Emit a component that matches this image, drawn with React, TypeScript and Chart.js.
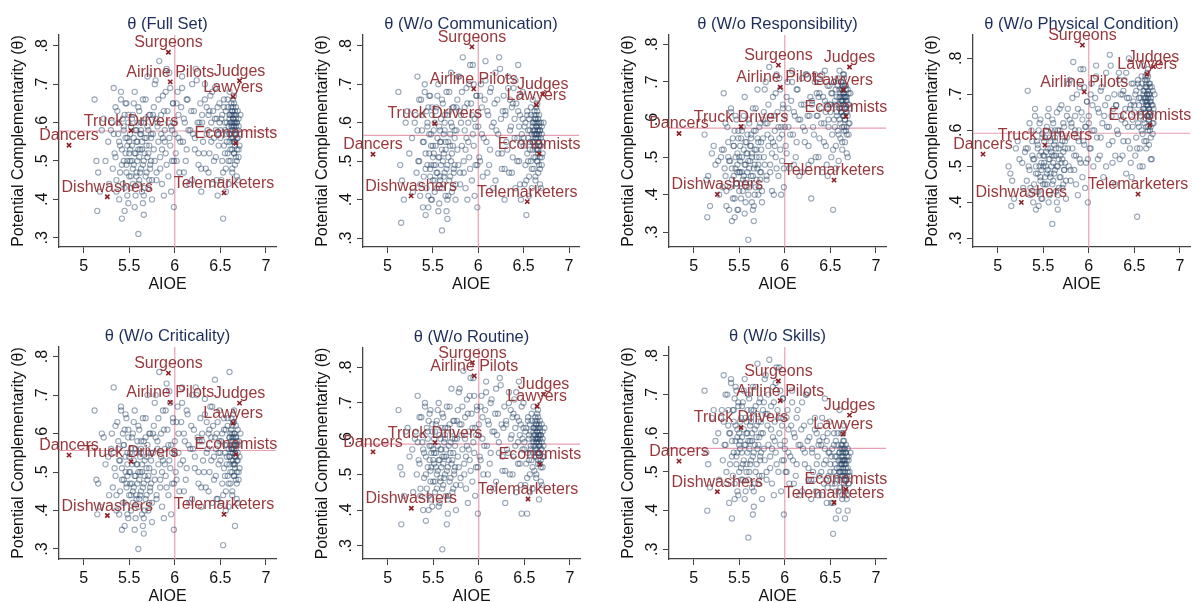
import React, { useEffect, useRef } from "react";
import { Chart, registerables } from "chart.js";
Chart.register(...registerables);

// ---------- DATA ----------
const aioe = [
  5.12, 5.15, 5.16, 5.2, 5.24, 5.28,
  5.31, 5.33, 5.34, 5.36, 5.37, 5.38, 5.39, 5.40, 5.41, 5.42, 5.42, 5.43, 5.44, 5.45, 5.46, 5.46, 5.47, 5.48, 5.48, 5.49, 5.49, 5.5,
  5.51, 5.52, 5.52, 5.53, 5.54, 5.54, 5.55, 5.55, 5.56, 5.57, 5.57, 5.58, 5.58, 5.59, 5.6, 5.6, 5.61, 5.61, 5.62, 5.63, 5.63, 5.64, 5.65, 5.65, 5.66, 5.67, 5.67, 5.68, 5.69, 5.69, 5.7, 5.71, 5.71, 5.72, 5.73, 5.73, 5.74, 5.75,
  5.76, 5.77, 5.78, 5.79, 5.8, 5.81, 5.82, 5.83, 5.84, 5.85, 5.86, 5.87, 5.88, 5.89, 5.9, 5.91, 5.92, 5.93, 5.94, 5.95, 5.96, 5.97, 5.98, 5.99,
  6.0, 6.01, 6.03, 6.04, 6.05, 6.07, 6.08, 6.09, 6.1, 6.12, 6.13, 6.15, 6.16, 6.18, 6.19, 6.2, 6.22, 6.23, 6.25, 6.26, 6.28, 6.29,
  6.3, 6.31, 6.33, 6.34, 6.35, 6.36, 6.38, 6.39, 6.4, 6.41, 6.42, 6.43, 6.44, 6.45, 6.46, 6.47, 6.48, 6.49,
  6.5, 6.51, 6.52, 6.52, 6.53, 6.54, 6.54, 6.55, 6.56, 6.56, 6.57, 6.58, 6.58, 6.59, 6.59, 6.6, 6.6, 6.6, 6.61, 6.61, 6.62, 6.62, 6.62, 6.63, 6.63, 6.63, 6.63, 6.64, 6.64, 6.64, 6.64, 6.65, 6.65, 6.65, 6.65, 6.66, 6.66, 6.66, 6.67, 6.67, 6.67, 6.68, 6.68, 6.68, 6.69, 6.69, 6.7, 6.7, 6.71, 6.72,
  5.14, 5.18, 5.22, 5.27,
  5.3, 5.32, 5.35, 5.35, 5.36, 5.38, 5.39, 5.4, 5.41, 5.42, 5.43, 5.44, 5.44, 5.45, 5.45, 5.46, 5.47, 5.47, 5.48, 5.48, 5.49, 5.5, 5.5, 5.33,
  5.51, 5.51, 5.52, 5.53, 5.53, 5.54, 5.55, 5.56, 5.56, 5.57, 5.58, 5.58, 5.59, 5.59, 5.6, 5.61, 5.62, 5.62, 5.63, 5.64, 5.64, 5.65, 5.66, 5.66, 5.67, 5.68, 5.68, 5.69, 5.7, 5.7, 5.71, 5.72, 5.72, 5.73, 5.74, 5.74, 5.75, 5.6, 5.63, 5.66,
  5.76, 5.77, 5.78, 5.8, 5.81, 5.82, 5.84, 5.85, 5.86, 5.88, 5.89, 5.9, 5.91, 5.93, 5.94, 5.95, 5.96, 5.97, 5.98, 5.99, 5.79, 5.87,
  6.0, 6.02, 6.02, 6.04, 6.06, 6.08, 6.1, 6.11, 6.13, 6.14, 6.17, 6.19, 6.21, 6.22, 6.24, 6.26, 6.27, 6.29,
  6.3, 6.32, 6.33, 6.35, 6.37, 6.38, 6.4, 6.41, 6.43, 6.44, 6.45, 6.46, 6.47, 6.48, 6.49, 6.37,
  6.5, 6.51, 6.53, 6.54, 6.55, 6.55, 6.56, 6.57, 6.57, 6.58, 6.59, 6.6, 6.6, 6.61, 6.61, 6.62, 6.62, 6.63, 6.63, 6.63, 6.64, 6.64, 6.64, 6.65, 6.65, 6.65, 6.66, 6.66, 6.66, 6.67, 6.67, 6.67, 6.68, 6.68, 6.69, 6.69, 6.7, 6.7, 6.71, 6.64, 6.63, 6.65, 6.62, 6.66, 6.6, 6.68,
];

const thetaFull = [
  .66, .37, .47, .58, .5, .44,
  .6, .69, .52, .45, .63, .57, .4, .54, .66, .49, .35, .61, .58, .43, .52, .65, .47, .56, .5, .62, .39, .55,
  .53, .46, .59, .5, .62, .44, .56, .49, .68, .52, .41, .58, .47, .55, .31, .64, .51, .45, .57, .6, .48, .53, .39, .66, .5, .56, .43, .61, .54, .47, .72, .52, .58, .45, .62, .49, .56, .4,
  .57, .64, .5, .71, .45, .6, .55, .76, .48, .62, .53, .67, .41, .58, .52, .74, .63, .46, .56, .69, .59, .5, .65, .38,
  .6, .52, .68, .56, .47, .64, .72, .55, .61, .5, .66, .58, .44, .63, .7, .57, .53, .74, .6, .49, .65, .42,
  .62, .55, .7, .48, .64, .58, .52, .67, .6, .44, .63, .56, .69, .51, .61, .41, .57, .65,
  .58, .45, .62, .5, .35, .66, .54, .6, .48, .63, .57, .52, .64, .44, .59, .61, .55, .68, .5, .62, .57, .6, .65, .53, .58, .63, .47, .61, .56, .6, .64, .52, .59, .62, .67, .55, .58, .49, .61, .57, .64, .53, .6, .46, .56, .63, .51, .59, .54, .62,
  .5, .42, .61, .55,
  .58, .48, .64, .51, .42, .6, .55, .47, .68, .53, .44, .59, .5, .62, .37, .56, .65, .49, .54, .41, .6, .52, .46, .57,
  .5, .57, .43, .61, .54, .48, .65, .52, .38, .58, .46, .55, .6, .5, .44, .63, .53, .47, .57, .42, .55, .49, .6, .36, .52, .66, .46, .56, .51, .59, .43, .54, .62, .48, .57, .5, .45, .53, .58, .41,
  .62, .53, .7, .47, .59, .66, .51, .57, .44, .63, .55, .68, .49, .6, .73, .54, .42, .58, .65, .5, .61, .56,
  .57, .65, .5, .62, .55, .69, .47, .6, .53, .66, .58, .45, .63, .56, .71, .52, .6, .48,
  .6, .52, .66, .57, .47, .63, .55, .68, .5, .61, .58, .45, .64, .54, .6, .62,
  .56, .61, .47, .64, .52, .58, .42, .6, .55, .66, .5, .62, .57, .53, .6, .64, .56, .59, .62, .48, .55, .61, .58, .65, .52, .6, .57, .63, .54, .59, .51, .62, .56, .6, .45, .58, .61, .53, .57, .66, .63, .55, .59, .6, .57, .5,
];

const thetaComm = [
  .68, .34, .45, .6, .52, .42,
  .62, .72, .5, .44, .66, .58, .38, .55, .68, .48, .36, .63, .59, .41, .52, .67, .46, .57, .49, .64, .4, .54,
  .52, .45, .6, .49, .64, .43, .56, .47, .7, .51, .39, .58, .46, .55, .32, .66, .5, .44, .57, .62, .47, .53, .37, .68, .49, .55, .41, .63, .54, .46, .73, .52, .59, .43, .64, .48, .56, .4,
  .58, .66, .49, .72, .44, .62, .54, .77, .47, .64, .53, .69, .4, .6, .51, .75, .65, .45, .57, .7, .61, .49, .67, .38,
  .62, .51, .7, .57, .46, .66, .76, .55, .63, .49, .68, .59, .43, .65, .73, .58, .52, .77, .61, .48, .67, .4,
  .63, .55, .72, .47, .66, .59, .51, .69, .61, .43, .65, .56, .75, .5, .62, .4, .57, .68,
  .56, .44, .6, .49, .36, .63, .52, .58, .46, .61, .55, .5, .62, .43, .57, .59, .53, .66, .48, .6, .55, .58, .63, .51, .56, .61, .45, .59, .54, .57, .62, .5, .57, .6, .65, .53, .56, .47, .59, .55, .62, .51, .58, .44, .54, .6, .49, .57, .52, .6,
  .49, .4, .63, .56,
  .6, .47, .66, .5, .41, .62, .55, .46, .7, .52, .43, .6, .49, .64, .38, .57, .67, .48, .54, .4, .62, .51, .45, .58,
  .49, .58, .42, .63, .54, .47, .67, .51, .37, .59, .45, .55, .61, .49, .43, .65, .52, .46, .58, .41, .55, .48, .62, .35, .51, .68, .45, .57, .5, .6, .42, .54, .64, .47, .58, .49, .44, .53, .6, .4,
  .64, .53, .72, .47, .6, .68, .5, .58, .43, .65, .55, .7, .48, .62, .75, .54, .41, .59, .67, .49, .63, .56,
  .59, .67, .5, .64, .56, .71, .47, .62, .53, .69, .6, .45, .66, .57, .74, .52, .63, .48,
  .62, .53, .69, .58, .47, .65, .56, .71, .5, .63, .59, .44, .67, .55, .61, .64,
  .54, .59, .45, .62, .5, .56, .41, .58, .53, .64, .48, .6, .55, .51, .58, .62, .54, .57, .6, .46, .53, .59, .56, .63, .5, .58, .55, .61, .52, .57, .49, .6, .54, .58, .43, .56, .59, .51, .55, .64, .61, .53, .57, .58, .55, .48,
];

const thetaResp = [
  .56, .34, .45, .51, .48, .4,
  .52, .67, .47, .41, .58, .5, .36, .49, .63, .44, .33, .55, .53, .39, .47, .61, .43, .51, .46, .57, .36, .5,
  .49, .43, .55, .46, .58, .41, .52, .45, .66, .48, .38, .54, .44, .51, .28, .6, .47, .42, .53, .56, .45, .5, .36, .63, .47, .52, .4, .57, .5, .44, .68, .48, .54, .42, .59, .46, .52, .38,
  .55, .62, .48, .7, .44, .59, .53, .74, .46, .61, .51, .66, .4, .57, .5, .72, .62, .45, .55, .68, .58, .49, .64, .42,
  .61, .53, .7, .58, .47, .65, .73, .56, .62, .5, .68, .6, .45, .64, .71, .58, .54, .72, .61, .48, .66, .39,
  .65, .58, .72, .5, .67, .61, .55, .7, .63, .46, .66, .59, .73, .53, .64, .45, .6, .69,
  .64, .5, .67, .56, .36, .7, .6, .65, .53, .68, .62, .57, .69, .49, .64, .66, .6, .73, .55, .67, .62, .65, .7, .58, .63, .68, .52, .66, .61, .65, .69, .57, .64, .67, .72, .6, .63, .54, .66, .62, .69, .58, .65, .51, .61, .68, .56, .64, .59, .67,
  .44, .37, .53, .49,
  .5, .42, .59, .45, .37, .54, .49, .42, .62, .47, .39, .53, .45, .57, .34, .5, .6, .43, .48, .36, .55, .46, .41, .52,
  .46, .53, .39, .57, .5, .44, .61, .48, .35, .54, .42, .51, .56, .46, .4, .59, .49, .43, .53, .38, .51, .45, .57, .33, .48, .63, .42, .52, .47, .55, .4, .5, .58, .44, .54, .46, .41, .49, .55, .37,
  .6, .5, .68, .45, .56, .64, .48, .55, .41, .61, .53, .67, .47, .58, .71, .52, .4, .56, .63, .47, .59, .54,
  .58, .66, .51, .63, .56, .7, .48, .61, .54, .68, .6, .46, .64, .57, .72, .53, .61, .49,
  .64, .56, .7, .61, .5, .67, .59, .72, .54, .65, .62, .48, .69, .58, .64, .66,
  .62, .67, .52, .7, .58, .64, .47, .66, .61, .71, .56, .68, .63, .59, .66, .7, .62, .65, .68, .54, .61, .67, .64, .71, .58, .66, .63, .69, .6, .65, .57, .68, .62, .66, .5, .64, .67, .59, .63, .72, .69, .61, .65, .66, .63, .56,
];

const thetaPhys = [
  .5, .39, .46, .55, .52, .44,
  .55, .71, .5, .44, .6, .53, .4, .52, .64, .48, .38, .57, .55, .43, .5, .62, .46, .54, .49, .59, .41, .53,
  .53, .47, .58, .5, .61, .45, .55, .49, .66, .52, .42, .57, .48, .54, .34, .63, .51, .46, .56, .6, .49, .53, .4, .65, .5, .55, .44, .6, .53, .47, .67, .52, .57, .45, .61, .49, .55, .41,
  .58, .66, .5, .74, .46, .62, .55, .79, .49, .64, .53, .7, .42, .6, .52, .77, .65, .47, .57, .72, .61, .51, .68, .4,
  .64, .55, .73, .6, .5, .69, .78, .58, .66, .53, .71, .62, .47, .67, .76, .61, .56, .81, .64, .51, .7, .45,
  .67, .6, .76, .52, .7, .63, .57, .74, .66, .48, .69, .61, .8, .55, .67, .47, .63, .73,
  .67, .53, .71, .58, .36, .74, .62, .69, .55, .72, .65, .6, .73, .5, .68, .7, .63, .78, .57, .71, .66, .69, .75, .61, .67, .72, .55, .7, .64, .68, .74, .6, .67, .71, .77, .63, .66, .56, .7, .65, .73, .61, .68, .52, .64, .72, .59, .67, .62, .7,
  .48, .41, .57, .51,
  .54, .46, .62, .49, .42, .57, .52, .45, .66, .5, .43, .56, .48, .6, .39, .53, .63, .47, .51, .41, .58, .5, .45, .55,
  .51, .57, .45, .6, .54, .48, .64, .52, .4, .58, .47, .55, .6, .5, .45, .62, .53, .48, .57, .43, .55, .5, .6, .38, .52, .66, .47, .56, .51, .59, .44, .54, .62, .49, .57, .51, .46, .53, .58, .42,
  .64, .55, .73, .49, .61, .69, .53, .6, .45, .66, .57, .72, .51, .63, .77, .56, .44, .61, .68, .52, .63, .58,
  .62, .7, .55, .67, .6, .75, .52, .65, .58, .72, .64, .5, .69, .61, .78, .57, .66, .53,
  .67, .59, .74, .64, .53, .71, .62, .76, .57, .69, .66, .51, .73, .61, .68, .7,
  .65, .7, .55, .73, .61, .67, .5, .69, .64, .75, .59, .71, .66, .62, .69, .74, .65, .68, .72, .57, .64, .7, .67, .75, .61, .69, .66, .73, .63, .68, .6, .72, .65, .69, .52, .67, .71, .62, .66, .76, .73, .64, .68, .7, .66, .58,
];

const thetaCrit = [
  .66, .39, .47, .6, .52, .44,
  .6, .72, .51, .44, .63, .56, .39, .53, .66, .48, .35, .6, .57, .42, .5, .65, .46, .55, .49, .61, .38, .54,
  .5, .44, .56, .47, .6, .42, .53, .46, .66, .49, .38, .55, .44, .52, .3, .62, .48, .43, .54, .58, .45, .5, .36, .64, .47, .53, .4, .59, .51, .44, .7, .49, .55, .42, .6, .46, .53, .37,
  .55, .62, .48, .7, .43, .58, .52, .76, .46, .6, .5, .66, .38, .56, .49, .73, .61, .44, .53, .68, .57, .47, .64, .35,
  .58, .5, .67, .55, .45, .63, .72, .53, .6, .48, .66, .57, .42, .62, .7, .56, .51, .72, .59, .47, .64, .41,
  .6, .53, .69, .46, .63, .56, .5, .67, .59, .42, .62, .54, .74, .49, .6, .43, .55, .66,
  .55, .42, .6, .47, .31, .64, .51, .57, .45, .61, .54, .49, .62, .41, .56, .59, .52, .76, .47, .6, .55, .58, .64, .5, .56, .62, .44, .59, .53, .57, .63, .49, .56, .6, .66, .52, .55, .36, .59, .54, .62, .5, .58, .43, .53, .61, .48, .57, .51, .6,
  .48, .41, .59, .54,
  .56, .46, .62, .49, .4, .58, .53, .45, .67, .51, .42, .57, .48, .61, .36, .54, .64, .47, .52, .39, .59, .5, .44, .55,
  .47, .55, .4, .59, .52, .45, .63, .49, .35, .56, .43, .52, .58, .47, .41, .61, .5, .44, .55, .39, .52, .46, .58, .34, .49, .64, .43, .54, .48, .57, .4, .51, .6, .45, .55, .47, .42, .5, .56, .38,
  .6, .5, .68, .44, .56, .64, .48, .54, .41, .61, .52, .66, .46, .57, .71, .51, .39, .55, .63, .47, .59, .53,
  .55, .63, .48, .6, .52, .68, .45, .58, .51, .65, .56, .43, .61, .54, .7, .5, .58, .46,
  .58, .5, .65, .55, .45, .61, .53, .67, .48, .59, .56, .43, .63, .52, .58, .6,
  .53, .58, .44, .61, .49, .55, .4, .57, .52, .64, .47, .59, .54, .5, .57, .61, .53, .56, .59, .45, .52, .58, .55, .63, .49, .57, .54, .6, .51, .56, .48, .59, .53, .57, .42, .55, .58, .5, .54, .65, .6, .52, .56, .57, .54, .47,
];

const thetaRout = [
  .68, .36, .5, .62, .55, .45,
  .62, .72, .54, .46, .66, .59, .4, .56, .69, .5, .37, .63, .6, .44, .54, .67, .48, .58, .52, .64, .41, .57,
  .56, .48, .62, .52, .65, .46, .58, .51, .7, .54, .42, .6, .49, .57, .29, .67, .53, .47, .59, .63, .5, .55, .36, .69, .52, .58, .44, .64, .56, .49, .74, .54, .6, .46, .65, .51, .58, .4,
  .6, .68, .52, .74, .47, .64, .57, .79, .5, .66, .55, .71, .42, .62, .54, .77, .67, .48, .59, .72, .63, .52, .69, .39,
  .64, .55, .72, .6, .5, .68, .76, .58, .65, .53, .7, .62, .46, .67, .74, .61, .56, .77, .64, .51, .69, .42,
  .65, .57, .73, .5, .68, .61, .55, .71, .63, .45, .66, .59, .76, .53, .64, .39, .6, .7,
  .59, .47, .63, .53, .39, .66, .56, .61, .5, .64, .58, .54, .65, .46, .6, .62, .56, .69, .51, .63, .58, .61, .66, .55, .59, .64, .49, .62, .57, .6, .65, .53, .6, .63, .68, .56, .59, .43, .62, .58, .65, .54, .61, .48, .57, .64, .52, .6, .55, .63,
  .52, .44, .63, .57,
  .6, .5, .66, .53, .44, .61, .57, .49, .7, .55, .46, .62, .52, .65, .4, .58, .68, .51, .56, .43, .62, .54, .48, .59,
  .53, .6, .45, .64, .56, .5, .68, .54, .41, .61, .48, .57, .63, .52, .46, .66, .55, .49, .6, .44, .57, .51, .63, .39, .54, .69, .48, .59, .53, .62, .45, .56, .65, .5, .6, .52, .47, .55, .61, .43,
  .65, .55, .73, .49, .61, .69, .53, .6, .46, .67, .57, .72, .51, .63, .77, .56, .44, .61, .68, .52, .64, .58,
  .61, .69, .54, .66, .58, .73, .5, .64, .56, .71, .62, .48, .67, .59, .75, .55, .63, .51,
  .64, .56, .7, .6, .5, .67, .58, .73, .53, .65, .61, .47, .69, .57, .63, .66,
  .57, .62, .49, .65, .54, .6, .45, .62, .57, .67, .52, .63, .58, .55, .61, .65, .57, .6, .63, .5, .56, .62, .59, .66, .54, .61, .58, .64, .56, .6, .53, .63, .57, .61, .47, .59, .62, .55, .58, .67, .64, .56, .6, .61, .59, .52,
];

const thetaSkill = [
  .71, .4, .52, .64, .58, .48,
  .66, .75, .57, .5, .7, .62, .42, .6, .73, .54, .38, .66, .63, .47, .58, .72, .52, .61, .55, .68, .44, .6,
  .58, .51, .64, .55, .68, .48, .61, .53, .74, .57, .45, .63, .52, .6, .33, .7, .56, .5, .62, .66, .53, .58, .39, .72, .55, .61, .47, .67, .59, .52, .78, .57, .63, .49, .69, .54, .6, .43,
  .6, .68, .53, .75, .48, .65, .57, .79, .51, .67, .56, .72, .44, .63, .55, .77, .66, .5, .6, .71, .64, .53, .69, .39,
  .58, .5, .66, .55, .47, .62, .71, .53, .6, .49, .64, .57, .44, .61, .68, .56, .52, .7, .58, .48, .63, .43,
  .56, .5, .64, .45, .6, .54, .49, .62, .57, .44, .59, .52, .69, .48, .58, .46, .55, .63,
  .52, .42, .56, .47, .34, .6, .5, .54, .45, .58, .51, .48, .57, .4, .53, .55, .5, .66, .46, .56, .52, .54, .6, .49, .53, .57, .44, .55, .5, .53, .58, .47, .52, .56, .62, .49, .52, .38, .55, .51, .57, .48, .54, .43, .5, .56, .47, .53, .49, .55,
  .55, .46, .66, .6,
  .64, .53, .7, .57, .47, .66, .6, .52, .74, .58, .49, .66, .55, .69, .43, .62, .71, .54, .59, .45, .67, .57, .5, .63,
  .56, .63, .48, .67, .59, .52, .71, .57, .43, .64, .5, .6, .66, .55, .48, .69, .58, .52, .63, .46, .6, .54, .66, .41, .57, .72, .5, .62, .56, .65, .47, .59, .68, .53, .63, .55, .49, .58, .64, .45,
  .66, .56, .74, .5, .62, .7, .54, .61, .47, .68, .58, .73, .52, .64, .77, .57, .45, .62, .69, .53, .65, .59,
  .56, .64, .5, .61, .54, .68, .47, .59, .52, .66, .57, .45, .62, .55, .7, .51, .59, .48,
  .55, .48, .61, .52, .44, .58, .5, .64, .47, .56, .53, .42, .6, .49, .55, .57,
  .5, .54, .42, .57, .47, .52, .38, .54, .49, .6, .45, .55, .51, .48, .53, .57, .5, .52, .55, .43, .49, .54, .51, .58, .46, .53, .5, .56, .48, .52, .45, .55, .49, .53, .4, .51, .54, .47, .5, .6, .56, .48, .52, .53, .5, .44,
];

const occupations = ["Surgeons", "Airline Pilots", "Judges", "Lawyers", "Truck Drivers", "Dancers", "Economists", "Dishwashers", "Telemarketers"];
const occAioe = [5.93, 5.95, 6.71, 6.64, 5.52, 4.84, 6.67, 5.26, 6.54];
const occFull = [.783, .706, .709, .667, .579, .541, .546, .407, .417];
const occComm = [.797, .688, .674, .646, .598, .518, .519, .410, .395];
const occResp = [.745, .686, .740, .678, .581, .563, .608, .401, .439];
const occPhys = [.837, .707, .777, .756, .559, .534, .615, .400, .423];
const occCrit = [.757, .681, .679, .627, .527, .544, .546, .387, .390];
const occRout = [.813, .776, .724, .691, .589, .563, .528, .405, .431];
const occSkill = [.735, .684, .647, .598, .615, .528, .455, .449, .421];

const panelTitles = [
  "θ (Full Set)",
  "θ (W/o Communication)",
  "θ (W/o Responsibility)",
  "θ (W/o Physical Condition)",
  "θ (W/o Criticality)",
  "θ (W/o Routine)",
  "θ (W/o Skills)",
];
const meanAioe = 6.0;
const meanTheta = [.578, .567, .577, .592, .556, .585, .561];

const xTickValues = [5, 5.5, 6, 6.5, 7];
const xTickLabels = ["5", "5.5", "6", "6.5", "7"];
const yTickValues = [.3, .4, .5, .6, .7, .8];
const yTickLabels = [".3", ".4", ".5", ".6", ".7", ".8"];
const xTitle = "AIOE";
const yTitle = "Potential Complementarity (θ)";

const panelTheta = [thetaFull, thetaComm, thetaResp, thetaPhys, thetaCrit, thetaRout, thetaSkill];
const panelOcc = [occFull, occComm, occResp, occPhys, occCrit, occRout, occSkill];

// ---------- LAYOUT ----------
const geometry = [
  { L: 59, R: 276, T: 35, B: 247, ymin: .276, ymax: .828 },
  { L: 363, R: 579, T: 35, B: 247, ymin: .277, ymax: .828 },
  { L: 669, R: 886, T: 35, B: 247, ymin: .261, ymax: .825 },
  { L: 973, R: 1190, T: 35, B: 247, ymin: .276, ymax: .865 },
  { L: 59, R: 276, T: 347, B: 559, ymin: .274, ymax: .825 },
  { L: 363, R: 580, T: 348, B: 559, ymin: .263, ymax: .854 },
  { L: 669, R: 886, T: 347, B: 559, ymin: .275, ymax: .823 },
];
const XMIN = 4.73, XMAX = 7.11;
const PAD_L = 60, PAD_T = 35, PAD_R = 12, PAD_B = 50;
const FONT = '"Liberation Sans", Arial, sans-serif';

function Panel({ idx }: { idx: number }) {
  const ref = useRef<HTMLCanvasElement>(null);
  const g = geometry[idx];
  const cw = g.R - g.L + PAD_L + PAD_R;
  const ch = g.B - g.T + PAD_T + PAD_B;

  useEffect(() => {
    const theta = panelTheta[idx];
    const occ = panelOcc[idx];
    const n = Math.min(aioe.length, theta.length);
    const cloud = [];
    for (let i = 0; i < n; i++) cloud.push({ x: aioe[i], y: theta[i] });

    const decor = {
      id: "decor" + idx,
      beforeDatasetsDraw(chart: any) {
        const { ctx, chartArea: a, scales } = chart;
        const px = scales.x.getPixelForValue(meanAioe);
        const py = scales.y.getPixelForValue(meanTheta[idx]);
        ctx.save();
        ctx.strokeStyle = "rgba(228,150,170,0.9)";
        ctx.lineWidth = 1.2;
        ctx.beginPath();
        ctx.moveTo(px, a.top);
        ctx.lineTo(px, a.bottom);
        ctx.moveTo(a.left, py);
        ctx.lineTo(a.right, py);
        ctx.stroke();
        ctx.restore();
      },
      afterDraw(chart: any) {
        const { ctx, chartArea: a, scales } = chart;
        ctx.save();
        ctx.fillStyle = "#111";
        ctx.font = `16px ${FONT}`;
        ctx.textAlign = "center";
        ctx.textBaseline = "alphabetic";
        xTickValues.forEach((v, i) => {
          ctx.fillText(xTickLabels[i], scales.x.getPixelForValue(v), a.bottom + 24);
        });
        ctx.fillText(xTitle, (a.left + a.right) / 2, a.bottom + 42);
        yTickValues.forEach((v, i) => {
          const py = scales.y.getPixelForValue(v);
          ctx.save();
          ctx.translate(a.left - 16, py);
          ctx.rotate(-Math.PI / 2);
          ctx.textAlign = "center";
          ctx.textBaseline = "middle";
          ctx.fillText(yTickLabels[i], 0, 0);
          ctx.restore();
        });
        ctx.save();
        ctx.translate(a.left - 40, (a.top + a.bottom) / 2);
        ctx.rotate(-Math.PI / 2);
        ctx.textAlign = "center";
        ctx.textBaseline = "middle";
        ctx.fillText(yTitle, 0, 0);
        ctx.restore();
        ctx.fillStyle = "#1d2e5c";
        ctx.font = `16.5px ${FONT}`;
        ctx.textAlign = "center";
        ctx.fillText(panelTitles[idx], (a.left + a.right) / 2, a.top - 6);
        ctx.fillStyle = "rgb(152,56,60)";
        ctx.font = `16px ${FONT}`;
        occupations.forEach((name, i) => {
          ctx.fillText(name, scales.x.getPixelForValue(occAioe[i]), scales.y.getPixelForValue(occ[i]) - 5);
        });
        ctx.restore();
      },
    };

    const axisCommon = {
      type: "linear" as const,
      ticks: { display: false },
      grid: { display: true, drawOnChartArea: false, drawTicks: true, tickLength: 6, color: "#444", lineWidth: 1 },
      border: { display: true, color: "#444", width: 1.3 },
    };

    const chart = new Chart(ref.current as HTMLCanvasElement, {
      type: "scatter",
      data: {
        datasets: [
          {
            data: occAioe.map((x, i) => ({ x, y: occ[i] })),
            pointStyle: "crossRot",
            pointRadius: 3,
            borderColor: "rgb(140,30,36)",
            backgroundColor: "rgb(140,30,36)",
            borderWidth: 1.6,
            order: 0,
          },
          {
            data: cloud,
            pointStyle: "circle",
            pointRadius: 2.6,
            borderColor: "rgba(42,72,104,0.48)",
            backgroundColor: "rgba(0,0,0,0)",
            borderWidth: 1.1,
            order: 1,
          },
        ],
      },
      options: {
        responsive: false,
        animation: false,
        events: [],
        layout: { padding: { left: 0, top: PAD_T, right: PAD_R, bottom: 0 } },
        plugins: { legend: { display: false }, tooltip: { enabled: false }, title: { display: false } },
        scales: {
          x: {
            ...axisCommon,
            min: XMIN,
            max: XMAX,
            afterFit: (s: any) => { s.height = PAD_B; },
            afterBuildTicks: (s: any) => { s.ticks = xTickValues.map((v) => ({ value: v })); },
          },
          y: {
            ...axisCommon,
            min: g.ymin,
            max: g.ymax,
            afterFit: (s: any) => { s.width = PAD_L; },
            afterBuildTicks: (s: any) => { s.ticks = yTickValues.map((v) => ({ value: v })); },
          },
        },
      } as any,
      plugins: [decor],
    });
    return () => chart.destroy();
  }, [idx]);

  return (
    <canvas
      ref={ref}
      width={cw}
      height={ch}
      style={{ position: "absolute", left: g.L - PAD_L, top: g.T - PAD_T, width: cw, height: ch }}
    />
  );
}

export default function App() {
  return (
    <div style={{ position: "fixed", left: 0, top: 0, width: 1193, height: 602, background: "#fff", overflow: "hidden" }}>
      {geometry.map((_, i) => (
        <Panel key={i} idx={i} />
      ))}
    </div>
  );
}
